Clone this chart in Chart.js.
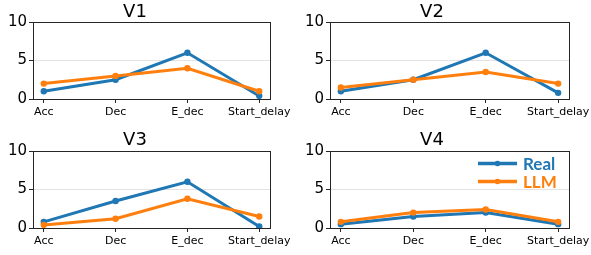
<!DOCTYPE html>
<html><head><meta charset="utf-8">
<script src="https://cdn.jsdelivr.net/npm/chart.js@4/dist/chart.umd.min.js"></script>
<style>
html,body{margin:0;padding:0;background:#fff;width:591px;height:255px;overflow:hidden;}
.p{position:absolute;}
</style></head><body>
<div class="p" style="left:0;top:0;width:295px;height:127px"><canvas id="c1"></canvas></div>
<div class="p" style="left:295px;top:0;width:296px;height:127px"><canvas id="c2"></canvas></div>
<div class="p" style="left:0;top:127px;width:295px;height:128px"><canvas id="c3"></canvas></div>
<div class="p" style="left:295px;top:127px;width:296px;height:128px"><canvas id="c4"></canvas></div>
<script>
const categories = ["Acc", "Dec", "E_dec", "Start_delay"];
const panelTitles = ["V1", "V2", "V3", "V4"];
const seriesNames = ["Real", "LLM"];
const realV1 = [1.0, 2.5, 6.0, 0.4];
const llmV1  = [2.0, 3.0, 4.0, 1.0];
const realV2 = [1.0, 2.5, 6.0, 0.8];
const llmV2  = [1.5, 2.5, 3.5, 2.0];
const realV3 = [0.8, 3.5, 6.0, 0.2];
const llmV3  = [0.4, 1.2, 3.8, 1.5];
const realV4 = [0.5, 1.5, 2.0, 0.5];
const llmV4  = [0.8, 2.0, 2.4, 0.8];
const yTicks = [0, 5, 10];

const BLUE = '#1f77b4', ORANGE = '#ff7f0e';
const FONT = "'DejaVu Sans', sans-serif";

const frame = {
  id: 'frame',
  afterDatasetsDraw(chart) {
    const a = chart.chartArea, c = chart.ctx;
    c.save(); c.strokeStyle = '#262626'; c.lineWidth = 1;
    c.strokeRect(Math.round(a.left) + 0.5, Math.round(a.top) + 0.5, Math.round(a.right - a.left), Math.round(a.bottom - a.top));
    c.restore();
  }
};

const legendPlugin = {
  id: 'legendInside',
  afterDraw(chart) {
    if (!chart.options.plugins.legendInside || !chart.options.plugins.legendInside.show) return;
    const c = chart.ctx;
    const items = [[seriesNames[0], BLUE, 36.5], [seriesNames[1], ORANGE, 54.5]];
    c.save();
    items.forEach(([name, col, y]) => {
      c.strokeStyle = col; c.lineWidth = 3.5;
      c.beginPath(); c.moveTo(183, y); c.lineTo(222, y); c.stroke();
      c.fillStyle = col; c.beginPath(); c.arc(202.5, y, 2.8, 0, Math.PI * 2); c.fill();
      c.font = "bold 17px Lato, sans-serif"; c.textBaseline = 'middle'; c.textAlign = 'left';
      c.fillText(name, 228, y + 1);
    });
    c.restore();
  }
};

function makePanel(id, title, real, llm, o) {
  const toPts = arr => arr.map((v, i) => ({ x: i, y: v }));
  new Chart(document.getElementById(id), {
    type: 'line',
    data: {
      datasets: [
        { label: seriesNames[0], data: toPts(real), borderColor: BLUE, backgroundColor: BLUE, borderWidth: 3, pointRadius: 3.2, pointBorderWidth: 0, order: 1 },
        { label: seriesNames[1], data: toPts(llm), borderColor: ORANGE, backgroundColor: ORANGE, borderWidth: 3, pointRadius: 3.2, pointBorderWidth: 0, order: 0 }
      ]
    },
    options: {
      responsive: true, maintainAspectRatio: false, animation: false,
      layout: { padding: { left: 0, right: o.padRight, top: 0, bottom: 0 } },
      plugins: {
        legend: { display: false }, tooltip: { enabled: false },
        title: { display: true, text: title, color: '#000', font: { family: FONT, size: 18, lineHeight: 1, weight: 'normal' }, padding: { top: o.tTop, bottom: o.tBot } },
        legendInside: { show: !!o.legend }
      },
      scales: {
        x: {
          type: 'linear', min: -0.15, max: 3.15,
          afterBuildTicks: s => { s.ticks = categories.map((_, i) => ({ value: i })); },
          ticks: { callback: v => categories[v], color: '#000', font: { family: FONT, size: 11 }, padding: 3, maxRotation: 0, autoSkip: false },
          grid: { drawOnChartArea: false, tickLength: 4, tickColor: '#262626' },
          border: { color: '#262626', width: 1 },
          afterFit: s => { s.height = o.xH; s.paddingLeft = 0; s.paddingRight = 0; }
        },
        y: {
          min: 0, max: 10,
          afterBuildTicks: s => { s.ticks = yTicks.map(v => ({ value: v })); },
          ticks: { color: '#000', font: { family: FONT, size: 15 }, padding: 2 },
          grid: { color: '#e3e3e3', lineWidth: 1, tickLength: 4, tickColor: '#262626' },
          border: { color: '#262626', width: 1 },
          afterFit: s => { s.width = o.yW; s.paddingTop = 0; s.paddingBottom = 0; }
        }
      }
    },
    plugins: [frame, legendPlugin]
  });
}

makePanel('c1', panelTitles[0], realV1, llmV1, { padRight: 25, yW: 33, xH: 28, tTop: 3, tBot: 1 });
makePanel('c2', panelTitles[1], realV2, llmV2, { padRight: 22, yW: 35, xH: 28, tTop: 3, tBot: 1 });
makePanel('c3', panelTitles[2], realV3, llmV3, { padRight: 25, yW: 33, xH: 27, tTop: 4, tBot: 2 });
makePanel('c4', panelTitles[3], realV4, llmV4, { padRight: 22, yW: 35, xH: 27, tTop: 4, tBot: 2, legend: true });
</script>
</body></html>
